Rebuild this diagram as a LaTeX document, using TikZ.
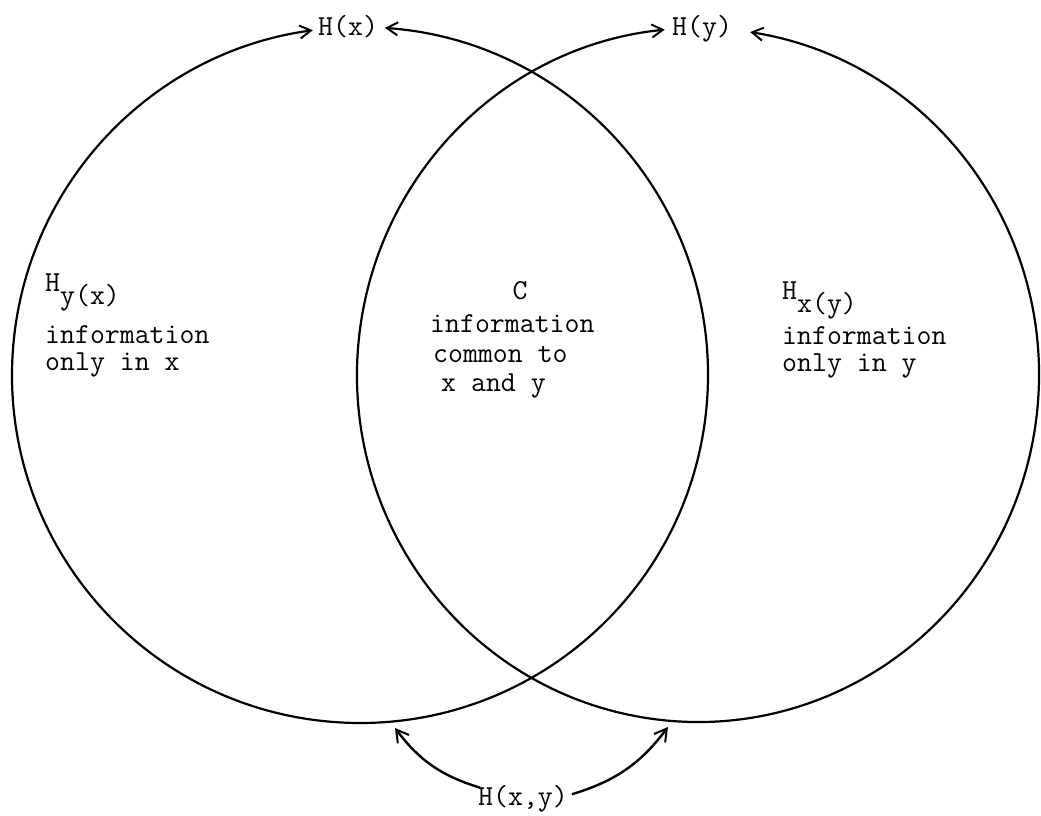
\documentclass[tikz,border=0pt]{standalone}
\usetikzlibrary{arrows.meta}
\begin{document}
\begin{tikzpicture}[x=1pt,y=1pt,
  lbl/.style={font=\ttfamily\fontsize{29}{29}\selectfont, inner sep=0pt, anchor=base west},
  circ/.style={line width=2.2pt, draw=black},
  conn/.style={line width=2.4pt, -{Straight Barb[length=12pt,width=14pt,line width=2pt]}}]
\useasboundingbox (0,0) rectangle (1041,815);
% circles (open at top, arrowheads at both ends)
\draw[circ, {Straight Barb[length=11pt,width=13pt,line width=2pt]}-{Straight Barb[length=11pt,width=13pt,line width=2pt]}]
  (360,440) ++(85.9:348) arc[start angle=85.9, end angle=-262.2, radius=348];
\draw[circ, {Straight Barb[length=11pt,width=13pt,line width=2pt]}-{Straight Barb[length=11pt,width=13pt,line width=2pt]}]
  (698,440) ++({341*cos(81.2)},{347*sin(81.2)}) arc[start angle=81.2, end angle=-264.4, x radius=341, y radius=347];
% top labels
\node[lbl] (hx) at (318,779) {H(x)};
\node[lbl] (hy) at (672,779) {H(y)};
% left region
\node[lbl] (hyx) at (45,523) {H\raisebox{-0.42em}{y(x)}};
\node[lbl] (linfo) at (45,471) {information};
\node[lbl] (lonly) at (45,444) {only in x};
% right region
\node[lbl] (hxy) at (782,515) {H\raisebox{-0.42em}{x(y)}};
\node[lbl] (rinfo) at (782,470) {information};
\node[lbl] (ronly) at (782,443) {only in y};
% centre region
\node[lbl, anchor=base] (c) at (520,515) {C};
\node[lbl] (cinfo) at (430,482) {information};
\node[lbl] (ccommon) at (433,452) {common to};
\node[lbl] (cxy) at (441,423) {x and y};
% bottom label
\node[lbl] (hjoint) at (478,10) {H(x,y)};
\coordinate (tl) at (395,87);
\coordinate (tr) at (668,88);
\draw[conn] ([xshift=2pt,yshift=-3pt]hjoint.north west) to[bend left=18] (tl);
\draw[conn] ([xshift=4pt,yshift=4pt]hjoint.east) to[bend right=18] (tr);
\end{tikzpicture}
\end{document}
